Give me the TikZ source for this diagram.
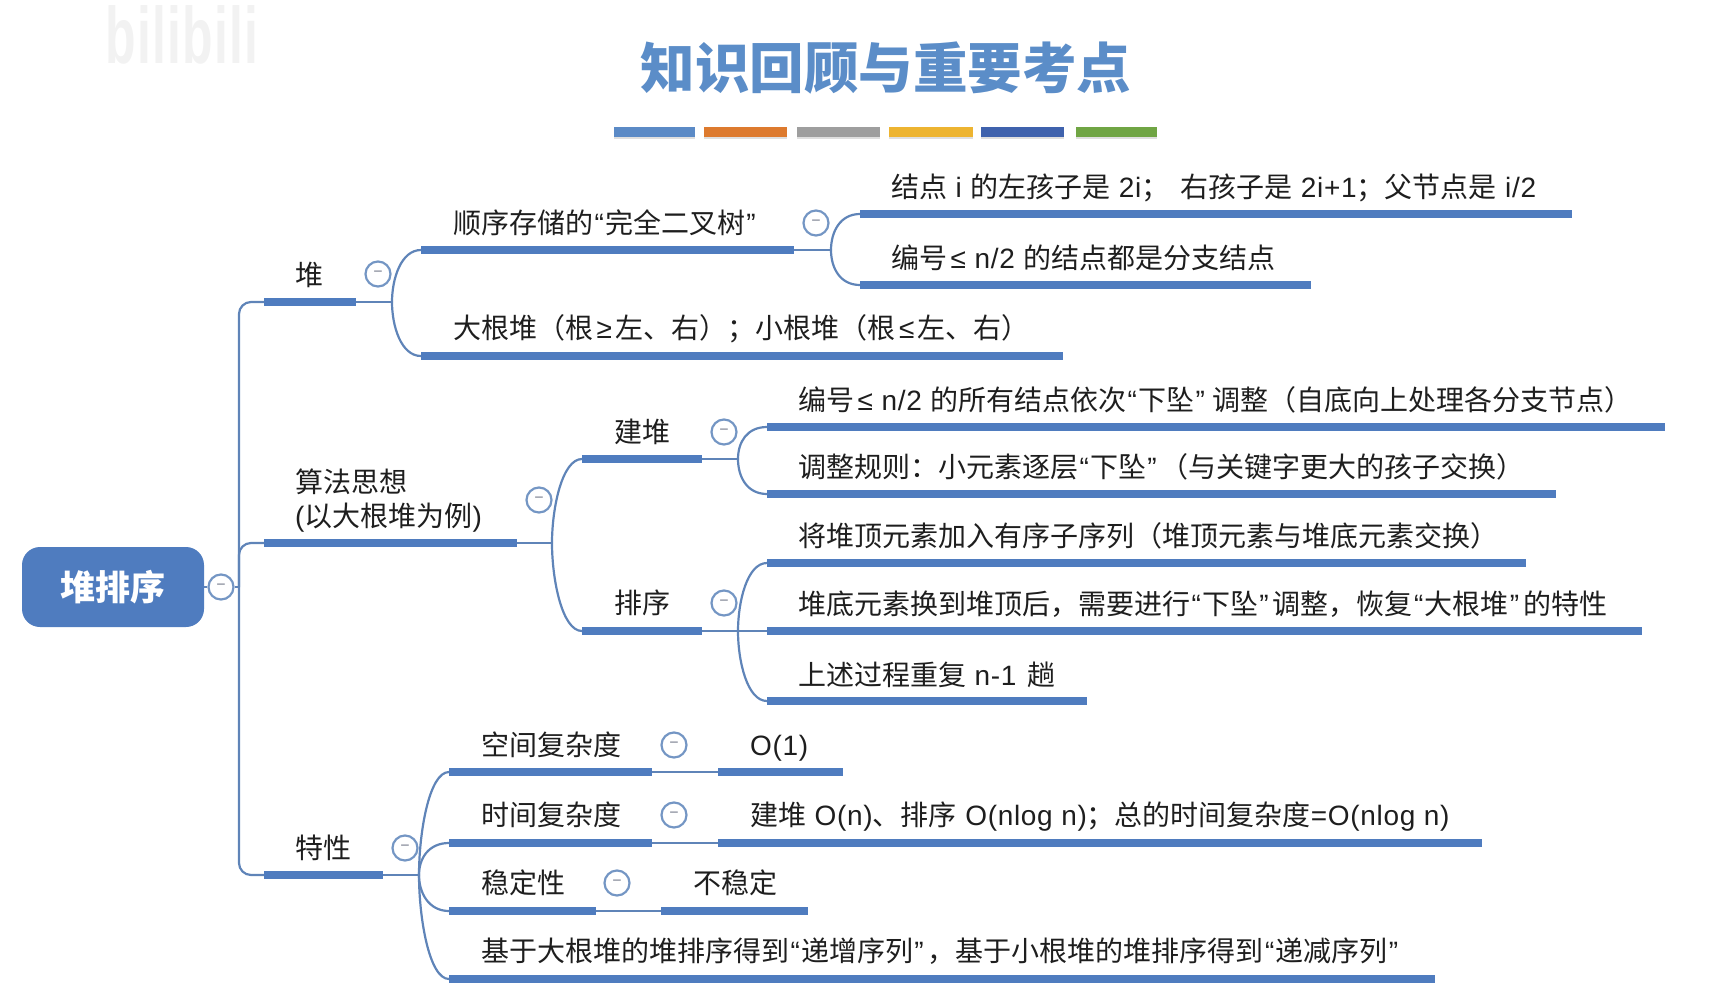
\documentclass[tikz,border=0pt]{standalone}
\usepackage{fontspec}
\setmainfont{Noto Sans CJK SC}
\newfontfamily\lat[LetterSpace=2.5]{Liberation Sans}
\usetikzlibrary{shadows}
\definecolor{barblue}{HTML}{4F7CBF}
\definecolor{linkblue}{HTML}{5F84B8}
\definecolor{titleblue}{HTML}{5B8DC8}
\definecolor{togline}{HTML}{7496C4}
\definecolor{tickgray}{HTML}{767C8C}
\definecolor{txt}{HTML}{1E1E1E}
\definecolor{ruleA}{HTML}{5B8AC6}
\definecolor{ruleB}{HTML}{DD7A2E}
\definecolor{ruleC}{HTML}{9E9E9E}
\definecolor{ruleD}{HTML}{EDB431}
\definecolor{ruleE}{HTML}{3F62AD}
\definecolor{ruleF}{HTML}{70A544}
\tikzset{
  bar/.style={rectangle,fill=barblue,inner sep=0pt,minimum height=8pt,anchor=west},
  lbl/.style={anchor=base west,xshift=-1pt,yshift=-10.5pt,inner sep=0pt,text=txt,font=\fontsize{28}{34}\selectfont},
  lblm/.style={anchor=west,xshift=-1pt,inner sep=0pt,text=txt,font=\fontsize{28}{34}\selectfont,align=left},
  tog/.style={circle,draw=togline,fill=white,line width=2.2pt,minimum size=25pt,inner sep=0pt,text=tickgray,font=\fontsize{16}{16}\selectfont},
  link/.style={draw=linkblue,line width=2.2pt},
  rule/.style={rectangle,inner sep=0pt,minimum height=10pt,anchor=west,drop shadow={shadow xshift=0pt,shadow yshift=-2pt,opacity=.25}},
}
\newcommand{\la}[1]{{\lat #1}}
\newcommand{\qo}{{\lat\hspace{1.3pt}“\hspace{1.3pt}}}
\newcommand{\qc}{{\lat\hspace{1.3pt}”\hspace{4pt}}}
\newcommand{\sgeq}{{\lat\hspace{3.5pt}≥\hspace{3.5pt}}}
\newcommand{\sleq}{{\lat\hspace{3.5pt}≤\hspace{3.5pt}}}
\newcommand{\barnode}[4]{\node[bar,minimum width=#4pt] (#1) at (#2,#3) {};}
\newcommand{\up}[2]{\draw[link] (#1) to[out=90,in=180,in distance=20pt] (#2.west);}
\newcommand{\dn}[2]{\draw[link] (#1) to[out=-90,in=180,in distance=20pt] (#2.west);}
\begin{document}
\begin{tikzpicture}[x=1pt,y=-1pt]
\useasboundingbox (0,0) rectangle (1716,1007);
% watermark
\node[inner sep=0pt,text=black!5,font=\fontsize{50}{50}\selectfont\lat\bfseries] (wm) at (182,35) {\scalebox{1}[1.6]{bilibili}};
% title
\node[inner sep=0pt,text=titleblue,font=\fontsize{54.5}{60}\selectfont\bfseries] (title) at (886,68) {知识回顾与重要考点};
\node[rule,fill=ruleA,minimum width=81pt] (r1) at (614,132) {};
\node[rule,fill=ruleB,minimum width=83pt] (r2) at (704,132) {};
\node[rule,fill=ruleC,minimum width=83pt] (r3) at (797,132) {};
\node[rule,fill=ruleD,minimum width=84pt] (r4) at (889,132) {};
\node[rule,fill=ruleE,minimum width=83pt] (r5) at (981,132) {};
\node[rule,fill=ruleF,minimum width=81pt] (r6) at (1076,132) {};
% root
\node[rectangle,rounded corners=18pt,fill=barblue,minimum width=182pt,minimum height=80pt,inner sep=0pt,text=white,font=\fontsize{35}{40}\selectfont\bfseries] (root) at (113,587) {堆排序};
\node[tog] (trootg) at (221,587) {−};
% bars
\barnode{b1}{264}{302}{92}
\barnode{b2}{264}{543}{253}
\barnode{b3}{264}{875}{119}
\barnode{c1}{421}{250}{373}
\barnode{c2}{421}{356}{642}
\barnode{d1}{860}{214}{712}
\barnode{d2}{860}{285}{451}
\barnode{e1}{582}{459}{120}
\barnode{e2}{582}{631}{120}
\barnode{f1}{767}{427}{898}
\barnode{f2}{767}{494}{789}
\barnode{g1}{767}{563}{759}
\barnode{g2}{767}{631}{875}
\barnode{g3}{767}{701}{320}
\barnode{h1}{449}{772}{203}
\barnode{h2}{449}{843}{203}
\barnode{h3}{449}{911}{147}
\barnode{h4}{449}{979}{986}
\barnode{i1}{718}{772}{125}
\barnode{i2}{718}{843}{764}
\barnode{i3}{661}{911}{147}
% labels
\node[lbl] (tb1) at (296,275) {堆};
\node[lblm] (tb2) at (296,501) {算法思想\\\la{(}以大根堆为例\la{)}};
\node[lbl] (tb3) at (296,848) {特性};
\node[lbl] (tc1) at (454,223) {顺序存储的\qo 完全二叉树\qc};
\node[lbl] (tc2) at (454,328) {大根堆（根\sgeq 左、右）；小根堆（根\sleq 左、右）};
\node[lbl] (td1) at (892,187) {结点\la{ i }的左孩子是\la{ 2i}；\hspace{11pt}右孩子是\la{ 2i+1}；父节点是\la{ i/2}};
\node[lbl] (td2) at (892,258) {编号{\lat\hspace{3.5pt}≤ n/2 }的结点都是分支结点};
\node[lbl] (te1) at (615,432) {建堆};
\node[lbl] (te2) at (615,603) {排序};
\node[lbl] (tf1) at (799,400) {编号{\lat\hspace{3.5pt}≤ n/2 }的所有结点依次\qo 下坠\qc\hspace{4pt}调整（自底向上处理各分支节点）};
\node[lbl] (tf2) at (799,467) {调整规则：小元素逐层\qo 下坠\qc（与关键字更大的孩子交换）};
\node[lbl] (tg1) at (799,536) {将堆顶元素加入有序子序列（堆顶元素与堆底元素交换）};
\node[lbl] (tg2) at (799,604) {堆底元素换到堆顶后，需要进行\qo 下坠\qc 调整，恢复\qo 大根堆\qc 的特性};
\node[lbl] (tg3) at (799,675) {上述过程重复\la{ n-1 }\hspace{2pt}趟};
\node[lbl] (th1) at (482,745) {空间复杂度};
\node[lbl] (th2) at (482,815) {时间复杂度};
\node[lbl] (th3) at (482,883) {稳定性};
\node[lbl] (th4) at (482,951) {基于大根堆的堆排序得到\qo 递增序列\qc，基于小根堆的堆排序得到\qo 递减序列\qc};
\node[lbl] (ti1) at (751,745) {\la{O(1)}};
\node[lbl] (ti2) at (751,815) {建堆\la{ O(n)}、排序\la{ O(nlog n)}；总的时间复杂度\la{=O(nlog n)}};
\node[lbl] (ti3) at (694,883) {不稳定};
% split points
\coordinate (tr) at (239,587);
\coordinate (s1) at (392,302);
\coordinate (s2) at (552,543);
\coordinate (s3) at (419,875);
\coordinate (sc) at (831,250);
\coordinate (se) at (738,459);
\coordinate (sg) at (738,631);
% connectors
\draw[link] (root.east) -- (trootg.west);
\draw[link] (trootg.east) -- (tr);
\draw[link,rounded corners=12pt] (tr) |- (b1.west);
\draw[link,rounded corners=12pt] (tr) |- (b3.west);
\draw[link,rounded corners=12pt] (tr) |- (b2.west);
\draw[link] (b1.east) -- (s1);
\draw[link] (b2.east) -- (s2);
\draw[link] (b3.east) -- (s3);
\draw[link] (c1.east) -- (sc);
\draw[link] (e1.east) -- (se);
\draw[link] (e2.east) -- (g2.west);
\draw[link] (h1.east) -- (i1.west);
\draw[link] (h2.east) -- (i2.west);
\draw[link] (h3.east) -- (i3.west);
\up{s1}{c1}\dn{s1}{c2}
\up{sc}{d1}\dn{sc}{d2}
\up{s2}{e1}\dn{s2}{e2}
\up{se}{f1}\dn{se}{f2}
\up{sg}{g1}\dn{sg}{g3}
\up{s3}{h1}\up{s3}{h2}\dn{s3}{h3}\dn{s3}{h4}
% toggles
\node[tog] (tgb1) at (378,274) {−};
\node[tog] (tgb2) at (539,500) {−};
\node[tog] (tgb3) at (405,848) {−};
\node[tog] (tgc1) at (816,223) {−};
\node[tog] (tge1) at (724,432) {−};
\node[tog] (tge2) at (724,603) {−};
\node[tog] (tgh1) at (674,745) {−};
\node[tog] (tgh2) at (674,815) {−};
\node[tog] (tgh3) at (617,883) {−};
\end{tikzpicture}
\end{document}
